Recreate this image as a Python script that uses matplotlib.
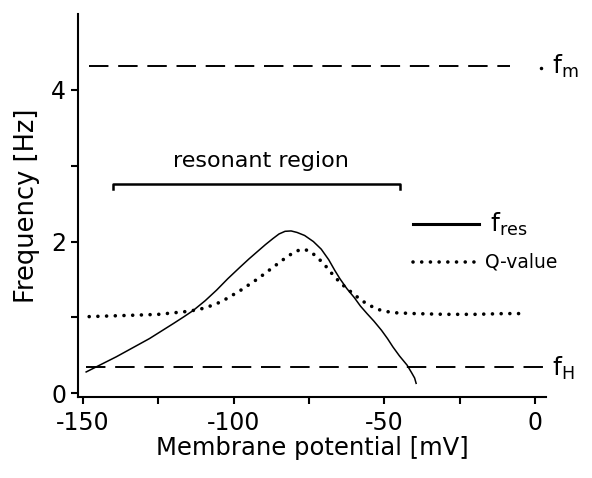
import numpy as np
import matplotlib
matplotlib.use('Agg')
import matplotlib.pyplot as plt

# resonance frequency curve (mV, Hz)
fres_x = [-149, -144, -139, -133.5, -128, -124, -120, -116.5, -113.5, -109.5, -105.7,
          -102, -98, -95, -92.4, -89.5, -87, -85, -83, -81, -79, -76.5, -73.6, -71,
          -68.5, -66.5, -64.8, -62.5, -60, -58, -55.8, -53.5, -51, -49, -47.2, -45,
          -42.5, -41, -40, -39.5]
fres_y = [0.28, 0.38, 0.48, 0.60, 0.72, 0.82, 0.92, 1.01, 1.09, 1.22, 1.36,
          1.51, 1.66, 1.77, 1.86, 1.96, 2.04, 2.10, 2.135, 2.14, 2.12, 2.08, 2.00, 1.90,
          1.76, 1.62, 1.51, 1.38, 1.26, 1.15, 1.05, 0.95, 0.83, 0.72, 0.61, 0.49,
          0.37, 0.27, 0.20, 0.13]

# Q-value curve
q_x = [-148, -140, -132, -125, -120, -115, -111, -107, -104, -101, -98, -95, -92,
       -89, -86, -83, -80, -77.5, -75, -72.5, -70, -67.5, -65, -62.5, -60, -57.5,
       -55, -52.5, -50, -46, -40, -30, -20, -10, -3]
q_y = [1.01, 1.02, 1.03, 1.04, 1.06, 1.08, 1.11, 1.16, 1.21, 1.28, 1.35, 1.43, 1.51,
       1.60, 1.69, 1.78, 1.86, 1.90, 1.88, 1.80, 1.70, 1.58, 1.47, 1.38, 1.30, 1.22,
       1.16, 1.11, 1.08, 1.06, 1.05, 1.04, 1.04, 1.05, 1.05]

f_m = 4.31
f_H = 0.345
fm_range = [-148, -8.5]
fH_range = [-149, 3]
region = [-140, -45]

plt.rcParams['font.family'] = 'DejaVu Sans'
plt.rcParams['axes.unicode_minus'] = False
fig = plt.figure(figsize=(5.92, 4.78), dpi=100)
ax = fig.add_axes([0.1318, 0.1695, 0.7905, 0.801])

ax.plot(fm_range, [f_m, f_m], color='black', lw=1.4, ls=(0, (10, 5)))
ax.plot(fH_range, [f_H, f_H], color='black', lw=1.4, ls=(0, (10, 5)))
ax.plot(fres_x, fres_y, color='black', lw=1.1)
ax.plot(q_x, q_y, color='black', lw=2.6, ls=(0, (0.01, 2.4)), dash_capstyle='round')

# resonant region bracket
ax.plot([region[0], region[0], region[1], region[1]], [2.69, 2.76, 2.76, 2.69],
        color='black', lw=1.8)
ax.text(np.mean(region) + 1.5, 2.93, 'resonant region', ha='center', va='bottom', fontsize=16)

# legend drawn by hand
ax.plot([-40.5, -18.5], [2.23, 2.23], color='black', lw=2.2)
ax.text(-15, 2.23, r'f$_\mathregular{res}$', va='center', fontsize=18)
ax.plot([-40.5, -19.5], [1.73, 1.73], color='black', lw=2.6, ls=(0, (0.01, 2.4)),
        dash_capstyle='round')
ax.text(-16.5, 1.73, 'Q-value', va='center', fontsize=13.5)

# line labels
ax.plot([2.1], [4.29], marker='o', ms=1.5, color='black', clip_on=False)
ax.text(5.5, 4.31, r'f$_\mathregular{m}$', va='center', fontsize=18, clip_on=False)
ax.text(5.5, 0.33, r'f$_\mathregular{H}$', va='center', fontsize=18, clip_on=False)

ax.set_xlim(-151.7, 3.6)
ax.set_ylim(-0.05, 5)
ax.set_xticks([-150, -100, -50, 0])
ax.set_xticks([-125, -75, -25], minor=True)
ax.set_yticks([0, 2, 4])
ax.set_yticks([1, 3], minor=True)

for s in ['top', 'right']:
    ax.spines[s].set_visible(False)
for s in ['left', 'bottom']:
    ax.spines[s].set_linewidth(1.5)
ax.tick_params(which='both', direction='out', width=1.5, length=5, labelsize=17)
ax.tick_params(axis='x', pad=5)

ax.set_xlabel('Membrane potential [mV]', fontsize=17.5, labelpad=1)
ax.set_ylabel('Frequency [Hz]', fontsize=18.5, labelpad=8)

fig.savefig('out.png', dpi=100)
